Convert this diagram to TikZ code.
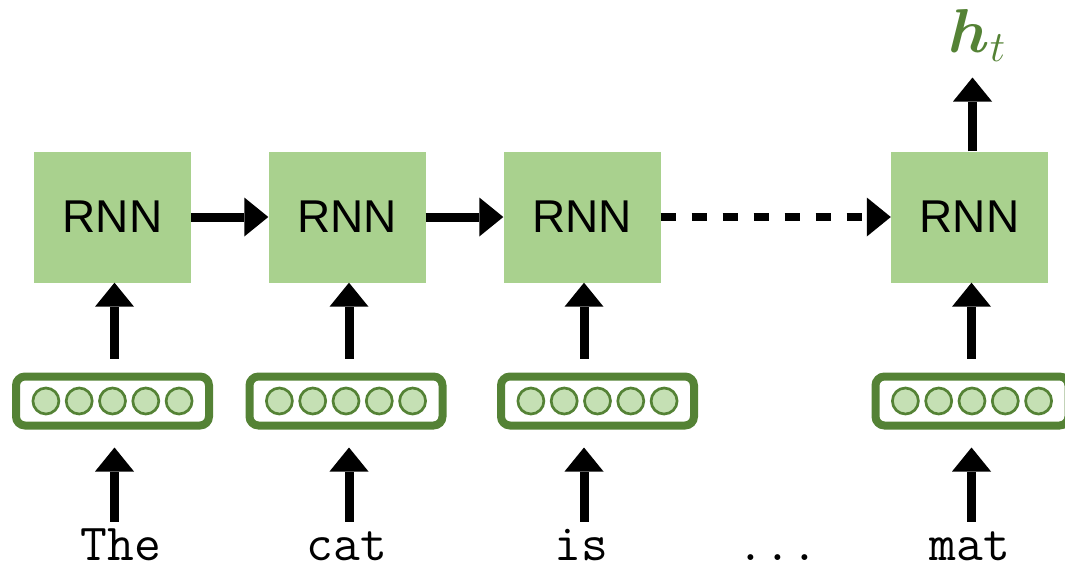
\documentclass[tikz,border=0pt]{standalone}
\usepackage{fix-cm}
\usepackage{amsmath}
\usepackage{fontspec}
\setsansfont{Liberation Sans}
\usetikzlibrary{arrows.meta,calc}

\definecolor{rnngreen}{HTML}{A9D18E}
\definecolor{darkgreen}{HTML}{548235}
\definecolor{unitgreen}{HTML}{C5E0B4}

\tikzset{
  rnnbox/.style={fill=rnngreen, minimum width=157pt, minimum height=131pt, inner sep=0pt,
    font=\sffamily\fontsize{46}{55}\selectfont},
  vecbox/.style={draw=darkgreen, line width=8pt, rounded corners=9pt,
    minimum width=193pt, minimum height=49pt, inner sep=0pt},
  vecunit/.style={circle, draw=darkgreen, fill=unitgreen, line width=2.7pt,
    minimum size=26pt, inner sep=0pt},
  wordtxt/.style={font=\ttfamily\fontsize{52}{62}\selectfont, anchor=base,
    inner sep=0pt, text height=30pt, text depth=0pt},
  arr/.style={line width=9pt, -{Triangle[width=39pt,length=24pt,line width=0pt]}},
}

\begin{document}
\begin{tikzpicture}[x=1pt, y=-1pt]
    \useasboundingbox (0,0) rectangle (1065,570);

    % RNN cells, input vectors and words
    \foreach \i/\x/\vx/\wx/\word in {1/112.5/112.5/121/The, 2/347/346/347/cat, 3/582/597.5/581/is, 4/969.5/972/970/mat} {
        \node[rnnbox] (rnn\i) at (\x,217) {RNN};
        \node[vecbox] (vec\i) at (\vx,401) {};
        \foreach \k in {-2,...,2}
            \node[vecunit] (u\i\k) at ($(vec\i)+(\k*33.3,0)$) {};
        \node[wordtxt] (w\i) at (\wx,560) {\word};
    }
    \node[wordtxt] (wdots) at (778,560) {...};

    % output
    \node[text=darkgreen, inner sep=0pt, anchor=base, font=\fontsize{62}{74}\selectfont] (ht) at (977,52) {$\boldsymbol{h}_t$};

    % vertical arrows
    \foreach \i in {1,...,4} {
        \draw[arr, shorten <=14pt] ($(rnn\i.south |- vec\i.north)+(2,0)$) -- ($(rnn\i.south)+(2,0)$);
        \draw[arr, shorten <=8pt, shorten >=18pt] ($(rnn\i.south |- w\i.north)+(2,0)$) -- ($(rnn\i.south |- vec\i.south)+(2,0)$);
    }
    \draw[arr, shorten >=16pt] ($(rnn4.north)+(3,0)$) -- ($(rnn4.north |- ht.south)+(3,0)$);

    % recurrent arrows
    \draw[arr] (rnn1) -- (rnn2);
    \draw[arr] (rnn2) -- (rnn3);
    \draw[arr, line width=8pt, dash pattern=on 15pt off 16pt] (rnn3) -- (rnn4);

\end{tikzpicture}
\end{document}
